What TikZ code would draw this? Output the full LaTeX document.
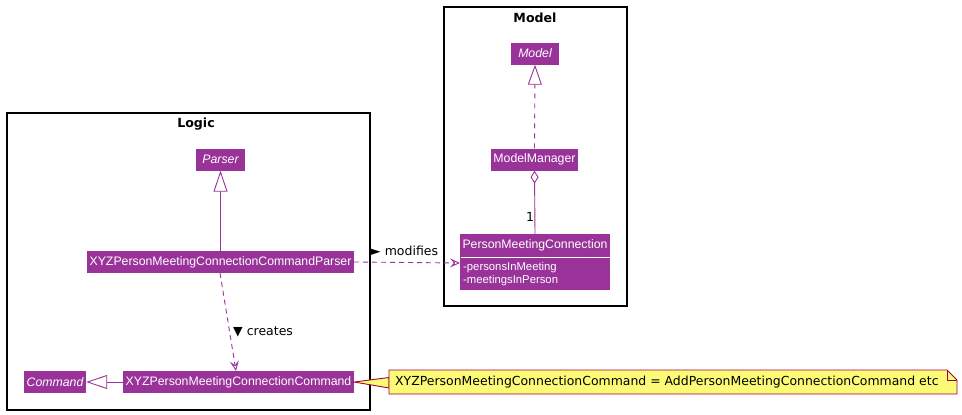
\documentclass[tikz,border=0pt]{standalone}
\usepackage{fontspec}
\setmainfont{Liberation Sans}
\newfontfamily\dv{DejaVu Sans}
\usetikzlibrary{arrows.meta,calc}
\definecolor{cls}{RGB}{153,51,153}
\definecolor{notefill}{RGB}{251,251,119}
\definecolor{noteline}{RGB}{168,0,54}
\begin{document}
\begin{tikzpicture}[x=1pt,y=-1pt,
  pkg/.style={draw=black,line width=1.4pt},
  pkgtitle/.style={font=\dv\bfseries\fontsize{12.6}{14}\selectfont,inner sep=0pt},
  cls/.style={fill=cls,text=white,inner sep=0pt,minimum height=22pt,font=\fontsize{12.3}{14}\selectfont},
  icls/.style={cls,font=\fontsize{12.3}{14}\selectfont\itshape},
  attr/.style={text=white,inner sep=0pt,anchor=west,font=\fontsize{11.3}{13}\selectfont},
  lbl/.style={inner sep=0pt,font=\dv\fontsize{12.5}{14}\selectfont},
  conn/.style={draw=cls,line width=0.9pt},
  inh/.style={conn,-{Triangle[open,length=21pt,width=14pt,fill=white]}},
  dep/.style={conn,dash pattern=on 5pt off 4pt,-{Stealth[open,length=10pt,width=9pt,inset=4pt]}},
  notesh/.style={fill=notefill,draw=noteline,line width=0.9pt,line join=miter},
]
\useasboundingbox (0,0) rectangle (962,415);
% packages
\draw[pkg] (444,7) rectangle (627,306);
\node[pkgtitle] (modeltitle) at (535,18) {Model};
\draw[pkg] (7,113) rectangle (370,410);
\node[pkgtitle] (logictitle) at (196,124) {Logic};

% Model package classes
\node[icls,minimum width=48pt] (model) at (535,53.5) {Model};
\node[cls,minimum width=87pt] (mm) at (534.5,159.5) {ModelManager};
\fill[cls] (460,234) rectangle (610,290);
\draw[white,line width=0.8pt] (460.5,257) -- (609.5,257);
\node[cls,minimum width=150pt,fill=none] (pmc) at (535,245) {PersonMeetingConnection};
\coordinate (pmcw) at (460,263);
\coordinate (pmcn) at (535,234);
\node[attr] (a1) at (463,268) {-personsInMeeting};
\node[attr] (a2) at (463,281) {-meetingsInPerson};

% Logic package classes
\node[icls,minimum width=49pt] (parser) at (220.5,159.5) {Parser};
\node[cls,minimum width=267pt] (xyzp) at (220.5,262) {XYZPersonMeetingConnectionCommandParser};
\node[cls,minimum width=231pt] (xyzc) at (238.5,382) {XYZPersonMeetingConnectionCommand};
\node[icls,minimum width=62pt] (cmd) at (55,382) {Command};

% connectors
\draw[inh] (xyzp.north) -- (parser.south);
\draw[inh] (xyzc.west) -- (cmd.east);
\draw[conn,dash pattern=on 5pt off 5pt,-{Triangle[open,length=20pt,width=14pt,fill=white]}] (mm.north) -- (model.south);
\draw[conn,{Diamond[open,length=13pt,width=8pt,fill=white]}-] (mm.south) -- (pmcn);
\node[lbl] (one) at (530,217) {1};
\draw[dep] (xyzp.east) -- (pmcw);
\node[lbl,anchor=west] (modlbl) at (371,251) {► modifies};
\draw[dep] (220,273) -- (236,371);
\node[lbl,anchor=west] (crlbl) at (233,332) {▼ creates};

% note
\coordinate (nw1) at (389,377.5);
\coordinate (nw2) at (389,388);
\draw[notesh] (xyzc.east) -- (nw1) -- (nw2) -- cycle;
\draw[notesh] (389,370) -- (947,370) -- (957,380) -- (957,394) -- (389,394) -- cycle;
\draw[noteline,line width=0.9pt] (947,370) -- (947,380) -- (957,380);
\node[lbl,anchor=west,font=\dv\fontsize{12.45}{14}\selectfont] (notetext) at (395,382.5) {XYZPersonMeetingConnectionCommand = AddPersonMeetingConnectionCommand etc};
\end{tikzpicture}
\end{document}
